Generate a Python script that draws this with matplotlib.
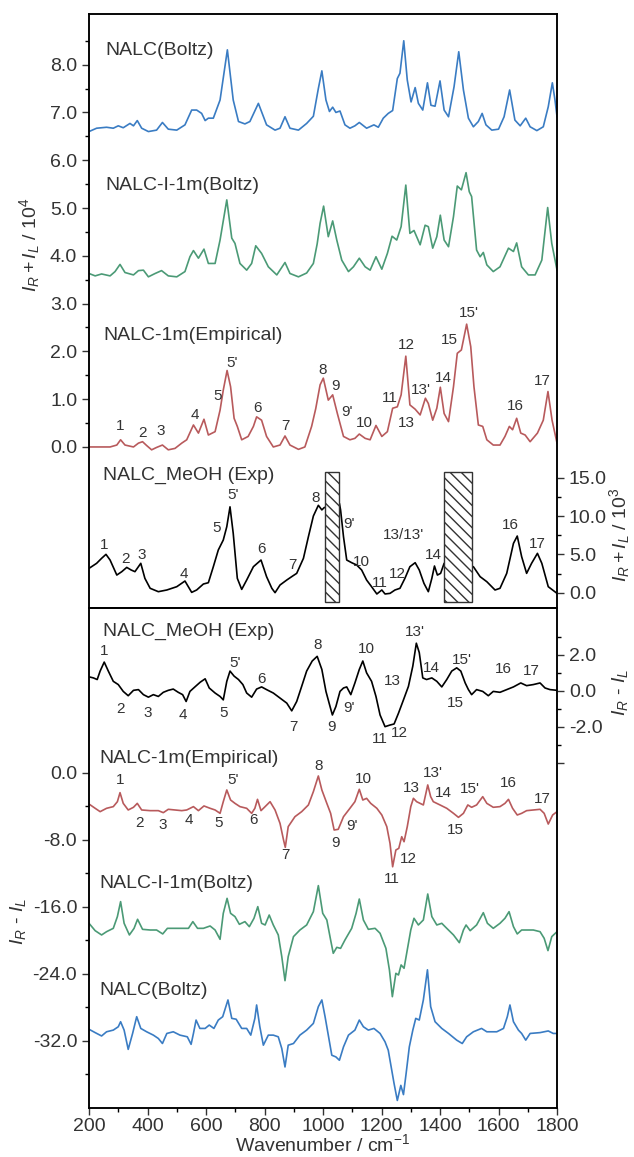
import matplotlib.pyplot as plt

plt.rcParams['font.family'] = ['Liberation Sans', 'DejaVu Sans']
plt.rcParams['axes.unicode_minus'] = False
plt.rcParams['mathtext.fontset'] = 'custom'
plt.rcParams['mathtext.rm'] = 'Liberation Sans'
plt.rcParams['mathtext.it'] = 'Liberation Sans:italic'

# spectra as (wavenumber, value) pairs, offsets included
# top panel: I_R + I_L (calc on left axis /10^4, exp on right axis /10^3)
nalc_boltz_sum = [
    (200, 6.60), (226, 6.67), (260, 6.69), (283, 6.67), (300, 6.72), (317, 6.68), (340, 6.77), (352, 6.72),
    (365, 6.83), (380, 6.67), (403, 6.60), (431, 6.63), (451, 6.79), (471, 6.65), (500, 6.63), (528, 6.74),
    (551, 7.05), (568, 7.05), (585, 6.98), (597, 6.83), (608, 6.88), (625, 6.88), (648, 7.26), (673, 8.31),
    (693, 7.26), (711, 6.81), (733, 6.76), (750, 6.81), (779, 7.19), (807, 6.74), (836, 6.63), (853, 6.67),
    (870, 6.91), (887, 6.67), (916, 6.63), (944, 6.77), (967, 6.92), (984, 7.50), (996, 7.87), (1010, 7.26),
    (1022, 7.02), (1033, 7.11), (1044, 7.00), (1058, 7.03), (1075, 6.74), (1092, 6.67), (1109, 6.72),
    (1124, 6.79), (1149, 6.67), (1174, 6.74), (1189, 6.69), (1206, 6.88), (1223, 6.98), (1238, 7.04),
    (1254, 7.71), (1263, 7.82), (1276, 8.50), (1288, 7.68), (1301, 7.22), (1315, 7.52), (1326, 7.19),
    (1341, 7.05), (1357, 7.62), (1369, 7.15), (1383, 7.13), (1400, 7.66), (1414, 7.05), (1429, 6.91),
    (1448, 7.54), (1464, 8.27), (1480, 7.47), (1497, 6.88), (1514, 6.70), (1531, 6.81), (1544, 6.98),
    (1557, 6.74), (1577, 6.63), (1600, 6.65), (1619, 6.91), (1638, 7.47), (1656, 6.84), (1674, 6.72),
    (1693, 6.88), (1708, 6.70), (1731, 6.62), (1753, 6.70), (1770, 7.12), (1784, 7.62), (1793, 7.26),
    (1800, 6.91),
]
nalc_i1m_sum = [
    (200, 3.63), (221, 3.58), (243, 3.62), (272, 3.58), (289, 3.67), (306, 3.82), (323, 3.65), (352, 3.60),
    (369, 3.69), (386, 3.70), (403, 3.56), (426, 3.63), (448, 3.69), (471, 3.58), (500, 3.56), (528, 3.67),
    (545, 3.98), (557, 4.11), (574, 3.95), (593, 4.14), (608, 3.84), (631, 3.84), (648, 4.33), (671, 5.17),
    (688, 4.37), (699, 4.26), (716, 3.84), (739, 3.70), (756, 3.84), (770, 4.21), (790, 4.05), (813, 3.77),
    (842, 3.60), (870, 3.86), (887, 3.63), (916, 3.56), (944, 3.64), (967, 3.84), (980, 4.25), (990, 4.68),
    (1002, 5.04), (1018, 4.40), (1033, 4.73), (1047, 4.33), (1064, 3.91), (1087, 3.67), (1104, 3.77),
    (1124, 3.95), (1144, 3.77), (1161, 3.70), (1181, 3.98), (1201, 3.72), (1220, 4.05), (1236, 4.41),
    (1252, 4.33), (1267, 4.61), (1283, 5.48), (1297, 4.47), (1311, 4.53), (1332, 4.23), (1349, 4.64),
    (1360, 4.61), (1375, 4.16), (1389, 4.40), (1401, 4.85), (1414, 4.33), (1429, 4.19), (1446, 4.82),
    (1459, 5.46), (1473, 5.38), (1489, 5.74), (1500, 5.34), (1508, 5.24), (1525, 4.12), (1537, 3.98),
    (1548, 4.07), (1560, 3.81), (1582, 3.67), (1605, 3.77), (1634, 4.16), (1651, 4.09), (1662, 4.27),
    (1679, 3.77), (1702, 3.60), (1725, 3.60), (1748, 3.91), (1768, 5.01), (1782, 4.26), (1800, 3.70),
]
nalc_emp_sum = [
    (200, 0.0), (238, 0.0), (272, 0.0), (295, 0.04), (308, 0.15), (323, 0.04), (352, 0.0), (369, 0.08),
    (383, 0.11), (397, 0.03), (414, -0.06), (431, -0.01), (451, 0.04), (471, -0.06), (494, -0.03),
    (517, 0.08), (534, 0.15), (557, 0.46), (574, 0.29), (593, 0.58), (608, 0.25), (631, 0.32), (648, 0.77),
    (659, 1.19), (672, 1.60), (684, 1.26), (696, 0.60), (707, 0.43), (722, 0.15), (744, 0.22), (762, 0.43),
    (773, 0.63), (790, 0.56), (807, 0.22), (830, 0.0), (853, 0.04), (870, 0.23), (887, 0.04), (916, -0.05),
    (938, 0.0), (961, 0.43), (975, 0.80), (990, 1.30), (1001, 1.44), (1018, 0.98), (1033, 1.09),
    (1049, 0.70), (1070, 0.22), (1092, 0.15), (1109, 0.18), (1124, 0.27), (1144, 0.18), (1161, 0.15),
    (1181, 0.45), (1201, 0.22), (1220, 0.32), (1238, 0.81), (1254, 0.84), (1267, 1.09), (1283, 1.90),
    (1297, 0.88), (1315, 0.79), (1332, 0.67), (1350, 1.02), (1360, 0.91), (1375, 0.56), (1389, 0.81),
    (1401, 1.25), (1414, 0.70), (1429, 0.53), (1446, 1.26), (1459, 1.96), (1473, 2.03), (1491, 2.57),
    (1505, 2.10), (1516, 1.26), (1531, 0.46), (1546, 0.43), (1560, 0.15), (1582, 0.04), (1605, 0.04),
    (1622, 0.22), (1637, 0.43), (1648, 0.36), (1662, 0.60), (1676, 0.29), (1691, 0.25), (1708, 0.11),
    (1733, 0.29), (1753, 0.56), (1769, 1.16), (1783, 0.56), (1800, 0.08),
]
meoh_exp_sum = [
    (200, 3.17), (226, 3.83), (243, 4.48), (258, 5.0), (272, 4.26), (295, 2.30), (312, 2.74), (329, 3.30),
    (344, 2.96), (357, 2.74), (377, 3.83), (391, 1.87), (409, 0.57), (437, 0.13), (466, 0.35), (500, 0.78),
    (528, 1.52), (551, 0.04), (568, 0.35), (591, 1.13), (608, 1.30), (625, 3.39), (642, 5.57), (659, 6.87),
    (671, 8.61), (682, 11.2), (693, 7.74), (707, 1.87), (722, 0.43), (739, 1.65), (762, 3.39), (788, 4.26),
    (807, 2.09), (825, 0.57), (836, 0.0), (853, 1.0), (876, 1.65), (896, 2.17), (910, 2.52), (933, 4.48),
    (950, 7.3), (967, 10.0), (984, 11.4), (996, 10.8), (1004, 11.1), (1056, 11.65), (1060, 10.8),
    (1070, 7.3), (1081, 4.26), (1098, 3.91), (1115, 3.61), (1132, 2.96), (1149, 1.65), (1166, 0.78),
    (1184, -0.17), (1201, 0.35), (1212, -0.17), (1229, -0.09), (1246, 0.35), (1263, 0.57), (1280, 1.87),
    (1297, 3.39), (1315, 3.91), (1329, 2.96), (1345, 1.22), (1360, 0.13), (1372, 1.87), (1381, 3.48),
    (1391, 2.30), (1402, 2.52), (1414, 3.83), (1514, 3.39), (1537, 2.09), (1560, 1.43), (1588, 0.35),
    (1605, 0.57), (1628, 2.52), (1651, 6.43), (1664, 7.39), (1679, 4.70), (1696, 2.52), (1713, 3.83),
    (1733, 5.13), (1748, 3.83), (1770, 0.78), (1800, -0.09),
]

# bottom panel: I_R - I_L (calc on left axis, exp on right axis)
meoh_exp_diff = [
    (200, 0.77), (215, 0.71), (228, 0.62), (238, 1.09), (252, 1.59), (266, 1.09), (283, 0.52), (300, 0.34),
    (317, -0.04), (334, -0.28), (352, 0.02), (369, 0.06), (386, -0.22), (403, -0.36), (420, -0.22),
    (437, -0.32), (454, -0.09), (471, 0.02), (488, 0.09), (505, -0.09), (520, -0.22), (532, -0.60),
    (545, -0.04), (562, 0.21), (580, 0.47), (597, 0.66), (611, 0.15), (631, -0.13), (648, -0.32),
    (659, -0.51), (671, 0.52), (682, 1.09), (696, 0.81), (711, 0.62), (726, 0.34), (739, -0.13),
    (756, -0.36), (773, 0.09), (790, 0.21), (807, 0.06), (830, -0.13), (853, -0.41), (876, -0.69),
    (893, -1.12), (910, -0.60), (927, 0.24), (944, 1.09), (963, 1.65), (980, 1.91), (996, 1.18),
    (1010, -0.04), (1024, -0.88), (1032, -1.35), (1044, -0.88), (1058, -0.04), (1070, 0.15), (1081, 0.21),
    (1095, -0.22), (1109, 0.43), (1124, 1.18), (1136, 1.65), (1149, 0.99), (1166, 0.52), (1181, -0.32),
    (1195, -1.35), (1212, -2.00), (1229, -1.91), (1243, -1.85), (1258, -1.25), (1275, -0.51), (1292, 0.24),
    (1307, 1.37), (1319, 2.64), (1329, 2.12), (1341, 0.71), (1354, 0.62), (1372, 0.71), (1389, 0.52),
    (1406, 0.21), (1423, 0.62), (1440, 1.09), (1457, 1.27), (1471, 1.09), (1486, 0.43), (1497, 0.06),
    (1508, -0.22), (1525, 0.06), (1546, -0.04), (1565, -0.28), (1582, -0.04), (1605, -0.09), (1628, 0.06),
    (1651, 0.21), (1676, 0.43), (1696, 0.28), (1719, 0.34), (1742, 0.43), (1759, 0.15), (1776, 0.06),
    (1800, 0.02),
]
nalc_emp_diff = [
    (200, -3.71), (221, -4.22), (238, -4.62), (260, -4.22), (283, -4.02), (297, -3.43), (306, -2.35),
    (317, -3.63), (334, -4.42), (352, -4.10), (365, -3.63), (380, -4.42), (409, -4.50), (437, -4.50),
    (454, -4.74), (471, -4.34), (494, -4.42), (517, -4.50), (534, -4.42), (557, -4.02), (574, -4.50),
    (593, -3.94), (614, -4.22), (631, -4.42), (648, -4.82), (659, -3.43), (671, -2.03), (684, -3.23),
    (699, -3.63), (716, -4.02), (739, -4.22), (756, -4.82), (767, -4.22), (776, -3.15), (788, -4.50),
    (802, -4.02), (819, -3.43), (836, -4.42), (853, -6.02), (865, -8.0), (871, -8.88), (881, -6.41),
    (904, -5.22), (927, -4.62), (950, -3.82), (967, -2.23), (984, -0.36), (996, -2.03), (1013, -3.63),
    (1026, -4.82), (1038, -6.81), (1052, -6.73), (1070, -5.22), (1092, -4.22), (1109, -3.43), (1124, -1.95),
    (1136, -3.23), (1149, -3.03), (1163, -3.63), (1184, -4.22), (1201, -5.02), (1218, -6.41), (1229, -8.41),
    (1238, -11.2), (1249, -9.20), (1259, -9.00), (1269, -7.61), (1277, -8.21), (1288, -6.41), (1300, -4.02),
    (1309, -3.03), (1320, -3.43), (1343, -3.82), (1358, -1.43), (1368, -2.83), (1377, -3.43), (1400, -3.82),
    (1423, -4.22), (1446, -4.82), (1463, -5.30), (1480, -4.82), (1495, -3.82), (1508, -4.10), (1525, -3.82),
    (1546, -2.83), (1560, -3.63), (1582, -4.10), (1605, -4.02), (1622, -3.63), (1634, -3.15), (1648, -4.22),
    (1664, -5.02), (1679, -4.82), (1696, -4.50), (1719, -4.42), (1742, -4.34), (1756, -4.82), (1770, -6.10),
    (1785, -5.02), (1800, -4.62),
]
nalc_i1m_diff = [
    (200, -17.95), (221, -18.83), (243, -19.34), (260, -18.95), (283, -18.55), (297, -17.15), (308, -15.36),
    (320, -17.95), (338, -19.34), (354, -18.55), (366, -17.47), (383, -18.67), (409, -18.75), (431, -18.75),
    (452, -19.22), (468, -18.55), (500, -18.55), (540, -18.55), (555, -17.75), (571, -18.55), (591, -18.55),
    (614, -18.27), (631, -18.75), (648, -19.86), (659, -16.76), (672, -14.97), (684, -16.76), (699, -17.15),
    (714, -18.07), (733, -17.75), (748, -18.35), (764, -17.35), (777, -15.96), (790, -17.95), (802, -18.15),
    (816, -16.96), (830, -18.15), (847, -19.34), (859, -21.93), (870, -24.8), (881, -21.93), (899, -19.54),
    (921, -18.75), (944, -18.15), (967, -16.56), (984, -13.45), (999, -16.76), (1013, -17.55), (1026, -19.94),
    (1035, -21.53), (1047, -20.82), (1060, -20.94), (1075, -19.94), (1098, -18.55), (1113, -16.76),
    (1124, -15.05), (1138, -17.55), (1155, -18.67), (1178, -18.55), (1195, -19.14), (1215, -20.94),
    (1227, -23.52), (1237, -26.71), (1249, -23.92), (1258, -24.12), (1267, -22.92), (1277, -23.32),
    (1288, -21.13), (1300, -18.75), (1311, -17.35), (1326, -18.15), (1343, -17.55), (1358, -14.45),
    (1372, -17.15), (1389, -18.15), (1406, -17.95), (1423, -18.55), (1446, -19.34), (1466, -20.26),
    (1480, -18.75), (1489, -18.15), (1503, -18.83), (1525, -18.15), (1548, -16.68), (1562, -17.95),
    (1582, -18.55), (1605, -17.95), (1622, -17.35), (1636, -16.56), (1651, -18.35), (1664, -19.22),
    (1679, -18.75), (1719, -18.75), (1742, -18.95), (1756, -19.74), (1769, -21.21), (1782, -19.54),
    (1800, -18.95),
]
nalc_boltz_diff = [
    (200, -30.6), (221, -31.0), (243, -31.4), (260, -30.9), (283, -30.7), (300, -30.3), (308, -29.7),
    (320, -30.7), (334, -33.0), (349, -31.1), (363, -29.1), (377, -30.5), (397, -30.9), (420, -31.3),
    (437, -31.7), (451, -32.3), (466, -31.1), (488, -30.9), (511, -31.3), (536, -31.5), (549, -32.4),
    (557, -31.1), (566, -29.5), (579, -30.5), (597, -30.5), (611, -30.1), (627, -30.5), (642, -29.5),
    (657, -29.1), (675, -27.1), (688, -29.3), (703, -29.4), (722, -30.5), (739, -30.5), (753, -31.3),
    (767, -29.3), (773, -27.7), (784, -30.3), (796, -32.5), (813, -31.3), (830, -31.3), (847, -31.5),
    (859, -32.9), (870, -35.1), (881, -32.5), (899, -32.3), (921, -31.3), (944, -30.7), (967, -29.9),
    (984, -27.9), (996, -27.1), (1007, -29.1), (1018, -31.3), (1030, -33.7), (1044, -33.9), (1056, -34.3),
    (1070, -32.7), (1087, -31.3), (1109, -30.7), (1124, -29.5), (1138, -30.3), (1155, -30.7), (1174, -30.5),
    (1195, -31.1), (1212, -32.1), (1223, -33.1), (1231, -34.7), (1243, -37.1), (1254, -39.1), (1266, -37.3),
    (1275, -38.4), (1284, -35.9), (1295, -32.7), (1307, -30.7), (1317, -29.3), (1329, -29.5), (1343, -27.1),
    (1357, -23.5), (1368, -27.9), (1383, -29.7), (1406, -30.5), (1429, -31.1), (1457, -31.9), (1476, -32.3),
    (1491, -31.5), (1514, -30.9), (1542, -30.5), (1560, -30.9), (1594, -30.9), (1617, -30.5), (1630, -29.1),
    (1639, -27.7), (1651, -29.7), (1668, -30.7), (1679, -31.1), (1693, -31.9), (1708, -31.1), (1742, -31.0),
    (1770, -30.8), (1787, -31.1), (1800, -31.1),
]

# masked regions in the experimental sum spectrum (wavenumber ranges)
box_left = [1007, 1414]
box_right = [1055, 1510]
box_low, box_high = -1.2, 15.8

# peak labels: (text, wavenumber, value in the axis units of that curve)
emp_sum_labels = [
    ('1', 308, 0.43), ('2', 383, 0.30), ('3', 445, 0.34), ('4', 562, 0.67), ('5', 639, 1.07),
    ("5'", 688, 1.76), ('6', 777, 0.81), ('7', 873, 0.43), ('8', 999, 1.62), ('9', 1044, 1.28),
    ("9'", 1081, 0.74), ('10', 1140, 0.51), ('11', 1227, 1.02), ('12', 1284, 2.13), ("13'", 1334, 1.19),
    ('13', 1286, 0.50), ('14', 1411, 1.44), ('15', 1431, 2.24), ("15'", 1497, 2.80), ('16', 1656, 0.86),
    ('17', 1748, 1.37),
]
exp_sum_labels = [
    ('1', 252, 6.2), ('2', 325, 4.35), ('3', 380, 4.9), ('4', 525, 2.5), ('5', 636, 8.4), ("5'", 693, 12.7),
    ('6', 788, 5.65), ('7', 895, 3.6), ('8', 973, 12.3), ("9'", 1090, 9.0), ('10', 1132, 4.0),
    ('11', 1195, 1.2), ('12', 1254, 2.4), ("13/13'", 1275, 7.5), ('14', 1377, 4.9), ('16', 1642, 8.8),
    ('17', 1733, 6.4),
]
exp_diff_labels = [
    ('1', 252, 2.21), ('2', 308, -1.03), ('3', 399, -1.22), ('4', 522, -1.35), ('5', 659, -1.22),
    ("5'", 699, 1.52), ('6', 790, 0.66), ('7', 899, -2.0), ('8', 981, 2.53), ('9', 1030, -2.0),
    ("9'", 1090, -0.97), ('10', 1147, 2.34), ('11', 1193, -2.66), ('12', 1260, -2.38), ('13', 1238, 0.52),
    ("13'", 1315, 3.28), ('14', 1372, 1.27), ('15', 1451, -0.66), ("15'", 1474, 1.70), ('16', 1617, 1.22),
    ('17', 1713, 1.12),
]
emp_diff_labels = [
    ('1', 306, -0.84), ('2', 372, -5.94), ('3', 452, -6.22), ('4', 543, -5.62), ('5', 644, -6.02),
    ("5'", 693, -0.84), ('6', 762, -5.62), ('7', 870, -9.8), ('8', 984, 0.84), ('9', 1041, -8.33),
    ("9'", 1098, -6.33), ('10', 1138, -0.76), ('11', 1235, -12.66), ('12', 1292, -10.3), ('13', 1301, -1.75),
    ("13'", 1374, -0.04), ('14', 1411, -2.43), ("15'", 1503, -1.95), ('15', 1451, -6.81), ('16', 1634, -1.24),
    ('17', 1751, -3.15),
]

BLUE = '#3a7cc3'
GREEN = '#4b9a76'
RED = '#b85a5c'
LW = 1.2


def draw(ax, pairs, color):
    xs = [p[0] for p in pairs]
    ys = [p[1] for p in pairs]
    ax.plot(xs, ys, color=color, lw=LW, zorder=2)


def put_labels(ax, labels):
    for txt, x, y in labels:
        ax.text(x, y, txt, fontsize=11, ha='center', va='center', color='#333333')


fig = plt.figure(figsize=(6.34, 11.57), dpi=100)
ax_top = fig.add_axes([0.1404, 0.4745, 0.7382, 0.5134])
ax_bot = fig.add_axes([0.1404, 0.04235, 0.7382, 0.4322])
ax_top_r = ax_top.twinx()
ax_bot_r = ax_bot.twinx()

# top panel
draw(ax_top, nalc_boltz_sum, BLUE)
draw(ax_top, nalc_i1m_sum, GREEN)
draw(ax_top, nalc_emp_sum, RED)
draw(ax_top_r, meoh_exp_sum, 'black')
ax_top_r.bar(box_left, box_high - box_low, width=[r - l for l, r in zip(box_left, box_right)],
             bottom=box_low, align='edge', facecolor='white', edgecolor='#333333', hatch='\\\\\\',
             lw=1.0, zorder=3)

ax_top.set_xlim(200, 1800)
ax_top.set_ylim(-3.37, 9.06)
ax_top_r.set_ylim(-2.0, 75.5)
ax_top.set_yticks([0, 1, 2, 3, 4, 5, 6, 7, 8])
ax_top.set_yticks([0.5, 1.5, 2.5, 3.5, 4.5, 5.5, 6.5, 7.5, 8.5], minor=True)
ax_top.set_yticklabels(['%.1f' % v for v in range(9)])
ax_top_r.set_yticks([0, 5, 10, 15])
ax_top_r.set_yticks([2.5, 7.5, 12.5], minor=True)
ax_top_r.set_yticklabels(['0.0', '5.0', '10.0', '15.0'])
ax_top.tick_params(axis='x', which='both', bottom=False, labelbottom=False)

ax_top.text(255, 8.3, 'NALC(Boltz)', fontsize=14, va='center', color='#333333')
ax_top.text(255, 5.48, 'NALC-I-1m(Boltz)', fontsize=14, va='center', color='#333333')
ax_top.text(248, 2.34, 'NALC-1m(Empirical)', fontsize=14, va='center', color='#333333')
ax_top.text(248, -0.59, 'NALC_MeOH (Exp)', fontsize=14, va='center', color='#333333')
put_labels(ax_top, emp_sum_labels)
put_labels(ax_top_r, exp_sum_labels)

# bottom panel
draw(ax_bot_r, meoh_exp_diff, 'black')
draw(ax_bot, nalc_emp_diff, RED)
draw(ax_bot, nalc_i1m_diff, GREEN)
draw(ax_bot, nalc_boltz_diff, BLUE)

ax_bot.set_xlim(200, 1800)
ax_bot.set_ylim(-40.0, 19.7)
ax_bot_r.set_ylim(-23.2, 4.6)
ax_bot.set_xticks(range(200, 1801, 200))
ax_bot.set_xticks(range(300, 1800, 200), minor=True)
ax_bot.set_yticks([0, -8, -16, -24, -32])
ax_bot.set_yticks([-4, -12, -20, -28, -36], minor=True)
ax_bot.set_yticklabels(['0.0', '-8.0', '-16.0', '-24.0', '-32.0'])
ax_bot_r.set_yticks([2, 0, -2, -4])
ax_bot_r.set_yticks([3, 1, -1, -3], minor=True)
ax_bot_r.set_yticklabels(['2.0', '0.0', '-2.0', ''])

ax_bot.text(247, 16.95, 'NALC_MeOH (Exp)', fontsize=14, va='center', color='#333333')
ax_bot.text(235, 1.75, 'NALC-1m(Empirical)', fontsize=14, va='center', color='#333333')
ax_bot.text(235, -13.25, 'NALC-I-1m(Boltz)', fontsize=14, va='center', color='#333333')
ax_bot.text(235, -26.0, 'NALC(Boltz)', fontsize=14, va='center', color='#333333')
put_labels(ax_bot_r, exp_diff_labels)
put_labels(ax_bot, emp_diff_labels)

ax_bot.set_xlabel('Wavenumber / cm$^{-1}$', fontsize=14, color='#333333', labelpad=-1)

for a in (ax_top, ax_bot, ax_top_r, ax_bot_r):
    a.tick_params(which='major', direction='out', length=5, width=1, labelsize=14, colors='#333333')
    a.tick_params(which='minor', direction='out', length=3, width=1)
    for s in a.spines.values():
        s.set_linewidth(1.1)
ax_top_r.tick_params(axis='x', which='both', bottom=False, top=False)
ax_bot.tick_params(axis='x', pad=2)

fig.text(30 / 634, 1 - 245 / 1157, '$I_R + I_L$ / 10$^4$', rotation=90, fontsize=14,
         ha='center', va='center', color='#333333')
fig.text(620 / 634, 1 - 535 / 1157, '$I_R + I_L$ / 10$^3$', rotation=90, fontsize=14,
         ha='center', va='center', color='#333333')
fig.text(620 / 634, 1 - 692 / 1157, '$I_R$ - $I_L$', rotation=90, fontsize=14,
         ha='center', va='center', color='#333333')
fig.text(18 / 634, 1 - 921 / 1157, '$I_R$ - $I_L$', rotation=90, fontsize=14,
         ha='center', va='center', color='#333333')

fig.savefig('out.png', dpi=100)
